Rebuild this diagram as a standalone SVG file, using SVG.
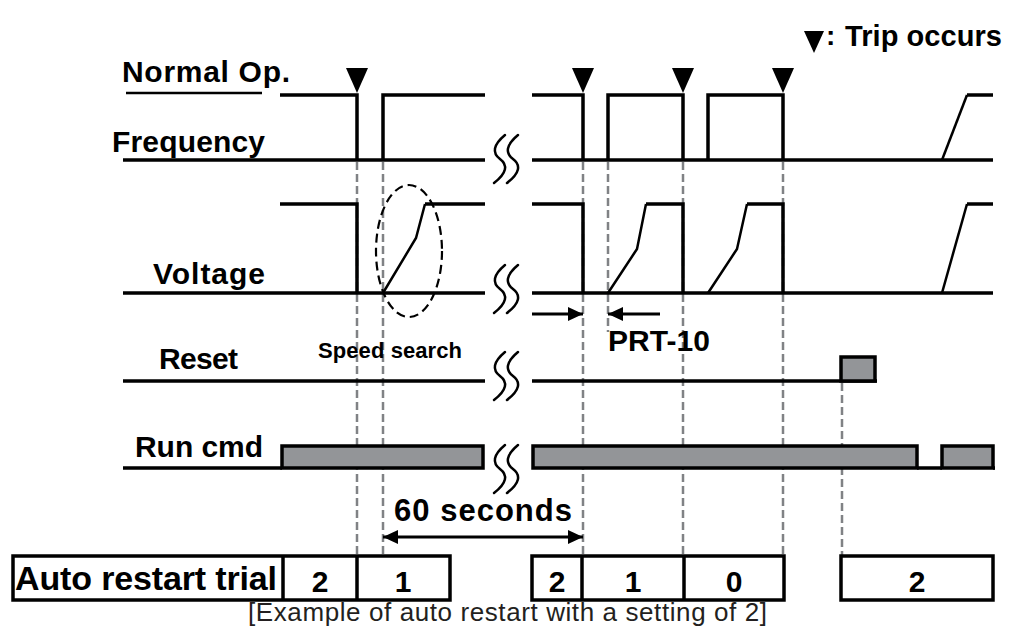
<svg xmlns="http://www.w3.org/2000/svg" width="1025" height="640" viewBox="0 0 1025 640">
<style>
.t{font-family:"Liberation Sans",Arial,sans-serif;font-weight:bold;fill:#000}
.w{fill:none;stroke:#000;stroke-width:3.5;stroke-linejoin:miter;stroke-linecap:butt}
.r{fill:none;stroke:#000;stroke-width:2.5;stroke-linejoin:miter}
.d{fill:none;stroke:#808285;stroke-width:2.5;stroke-dasharray:8 4}
.bar{fill:#939598;stroke:#000;stroke-width:3.5}
.cell{fill:#fff;stroke:#000;stroke-width:3.5}
.brk{fill:none;stroke:#000;stroke-width:2.5;stroke-linecap:round}
.arr{fill:none;stroke:#000;stroke-width:3}
</style>
<defs>
<path id="s" d="M6 -24 C-6 -14 -7 -6 1 0 C9 6 8 14 -5 24"/>
<g id="brk" class="brk"><use href="#s"/><use href="#s" x="13"/></g>
<marker id="ah" viewBox="0 0 15 14" refX="15" refY="7" markerWidth="15" markerHeight="14" markerUnits="userSpaceOnUse" orient="auto-start-reverse">
<path d="M0 0 L15 7 L0 14 Z" fill="#000"/>
</marker>
<path id="trip" d="M-11 0 H11 L0 25 Z" fill="#000"/>
</defs>

<g id="guides">
<path class="d" d="M357 162 V556 M383 162 V556 M583 162 V556 M608 162 V332 M683 162 V556 M783 162 V556 M842 383 V556"/>
</g>

<g id="labels">
<text class="t" x="122" y="82" font-size="30" textLength="168">Normal Op.</text>
<path d="M126 93 H262" stroke="#000" stroke-width="2.5"/>
<text class="t" x="112" y="152" font-size="30" textLength="153">Frequency</text>
<text class="t" x="153" y="284" font-size="30" textLength="112">Voltage</text>
<text class="t" x="159" y="369" font-size="30" textLength="79">Reset</text>
<text class="t" x="135" y="457" font-size="30" textLength="128">Run cmd</text>
</g>

<g id="legend">
<path d="M804 31 H824 L814 53 Z" fill="#000"/>
<text class="t" x="826" y="45" font-size="28">:</text>
<text class="t" x="845" y="46" font-size="29" textLength="157">Trip occurs</text>
</g>

<g id="frequency">
<path class="w" d="M123 160 H485 M532 160 H993"/>
<path class="w" d="M280 95 H357 V160 M383 160 V95 H485"/>
<path class="w" d="M532 95 H583 V160 M608 160 V95 H683 V160 M708 160 V95 H783 V160"/>
<path class="r" d="M942 160 L967 95"/>
<path class="w" d="M967 95 H993"/>
<use href="#trip" x="357" y="68"/>
<use href="#trip" x="583" y="68"/>
<use href="#trip" x="683" y="68"/>
<use href="#trip" x="783" y="68"/>
</g>

<g id="voltage">
<path class="w" d="M123 293 H485 M532 293 H993"/>
<path class="w" d="M280 204 H357 V293"/>
<path class="r" d="M383 293 L416 238 L425 204"/>
<path class="w" d="M425 204 H485"/>
<path class="w" d="M532 204 H583 V293"/>
<path class="r" d="M608 293 L637 249 L646 204"/>
<path class="w" d="M646 204 H683 V293"/>
<path class="r" d="M708 293 L737 249 L747 204"/>
<path class="w" d="M747 204 H783 V293"/>
<path class="r" d="M942 293 L967 204"/>
<path class="w" d="M967 204 H993"/>
</g>

<g id="speed-search">
<ellipse cx="409" cy="251" rx="33" ry="66" fill="none" stroke="#000" stroke-width="2.2" stroke-dasharray="9 5"/>
<text class="t" x="318" y="358" font-size="22" textLength="144">Speed search</text>
</g>

<g id="prt10">
<path class="arr" d="M532 314 H583" marker-end="url(#ah)"/>
<path class="arr" d="M660 314 H608" marker-end="url(#ah)"/>
<text class="t" x="608" y="351" font-size="30" textLength="102">PRT-10</text>
</g>

<g id="reset">
<path class="w" d="M123 381 H485 M532 381 H877"/>
<rect class="bar" x="841" y="357" width="34" height="24"/>
</g>

<g id="run-cmd">
<path class="w" d="M123 468 H282 M917 468 H942 M993 468 H995"/>
<rect class="bar" x="282" y="446" width="201" height="22"/>
<rect class="bar" x="533" y="446" width="384" height="22"/>
<rect class="bar" x="942" y="446" width="51" height="22"/>
</g>

<g id="breaks">
<use href="#brk" x="499" y="159"/>
<use href="#brk" x="499" y="289"/>
<use href="#brk" x="499" y="376"/>
<use href="#brk" x="499" y="469"/>
</g>

<g id="sixty">
<path class="arr" d="M383 537 H583" marker-start="url(#ah)" marker-end="url(#ah)"/>
<text class="t" x="394" y="521" font-size="31" textLength="178">60 seconds</text>
</g>

<g id="table">
<rect class="cell" x="13" y="556" width="437" height="44"/>
<path class="w" d="M283 556 V600 M357 556 V600"/>
<text class="t" x="15" y="590" font-size="34" textLength="262">Auto restart trial</text>
<text class="t" x="320" y="592" font-size="30" text-anchor="middle">2</text>
<text class="t" x="403" y="592" font-size="30" text-anchor="middle">1</text>
<rect class="cell" x="532" y="556" width="252" height="44"/>
<path class="w" d="M582 556 V600 M684 556 V600"/>
<text class="t" x="557" y="592" font-size="30" text-anchor="middle">2</text>
<text class="t" x="633" y="592" font-size="30" text-anchor="middle">1</text>
<text class="t" x="734" y="592" font-size="30" text-anchor="middle">0</text>
<rect class="cell" x="841" y="556" width="152" height="44"/>
<text class="t" x="917" y="592" font-size="30" text-anchor="middle">2</text>
</g>

<g id="caption">
<text x="248" y="621" font-family="Liberation Sans, Arial, sans-serif" font-size="26" fill="#231f20" textLength="519">[Example of auto restart with a setting of 2]</text>
</g>
</svg>
